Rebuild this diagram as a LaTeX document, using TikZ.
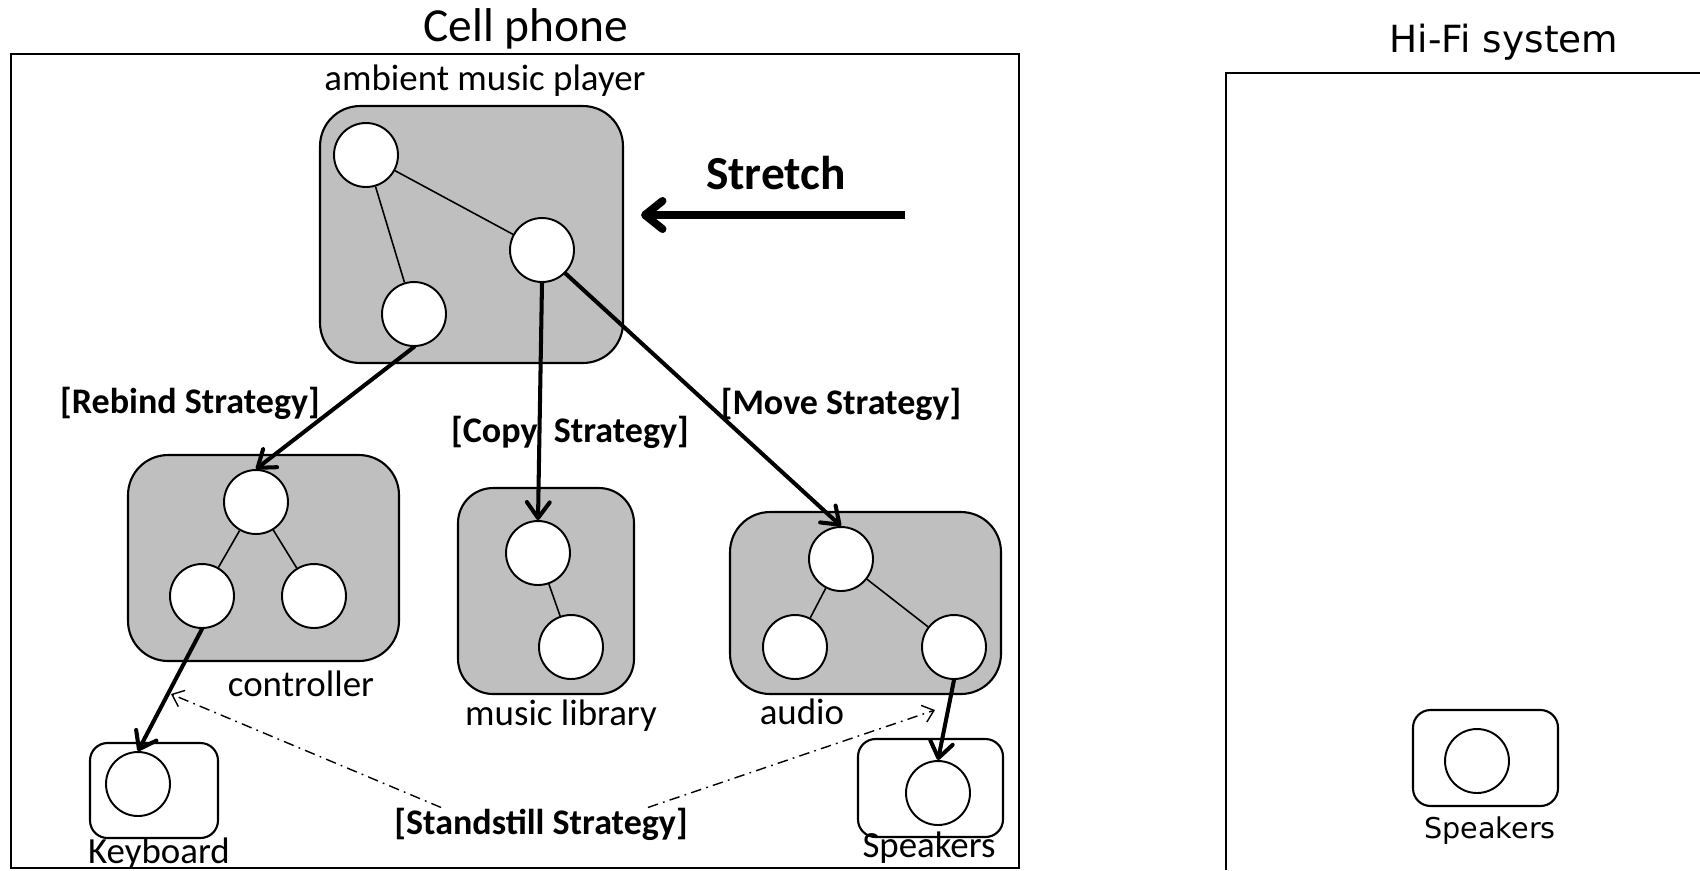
\documentclass[tikz,border=0pt]{standalone}
\usepackage{fontspec}
\setmainfont{Carlito}
\newfontfamily\hififont{DejaVu Sans}
\usetikzlibrary{arrows.meta,positioning,calc}

\tikzset{
  comp/.style={draw, rectangle, rounded corners=0.8cm, fill=black!25, line width=1.2pt},
  device/.style={draw, rectangle, rounded corners=0.35cm, fill=white, line width=1.2pt},
  part/.style={draw, circle, fill=white, line width=1.1pt, minimum size=1.28cm, inner sep=0pt},
  link/.style={line width=0.9pt},
  lbl/.style={font=\fontsize{21}{24}\selectfont, inner sep=0pt},
  strat/.style={font=\bfseries\fontsize{20.5}{24}\selectfont, inner sep=0pt},
  migrate/.style={line width=2.3pt, line cap=round,
    -{Straight Barb[length=9pt,width=13pt,line width=2.3pt,round]}},
  standstill/.style={line width=0.8pt, dash pattern=on 6pt off 3pt on 1pt off 3pt,
    -{Straight Barb[length=6pt,width=10pt,line width=0.8pt]}}
}

\begin{document}
\begin{tikzpicture}[x=0.02cm, y=-0.02cm]
  \useasboundingbox (0,0) rectangle (1700,870);
  \fill[white] (0,0) rectangle (1700,870);

  % cell phone frame
  \draw[line width=1.5pt] (11,54) rectangle (1019,868);
  \node[lbl, font=\fontsize{27}{30}\selectfont] (phone) at (526,29) {Cell phone};

  % components
  \node[comp, minimum width=6.06cm, minimum height=5.14cm] (amb) at (471.5,234.5) {};
  \node[comp, minimum width=5.42cm, minimum height=4.12cm] (ctrl) at (263.5,558) {};
  \node[comp, rounded corners=0.7cm, minimum width=3.52cm, minimum height=4.12cm] (lib) at (546,591) {};
  \node[comp, minimum width=5.42cm, minimum height=3.64cm] (aud) at (865.5,603) {};
  \node[device, minimum width=2.56cm, minimum height=1.9cm] (kbd) at (154,790.5) {};
  \node[device, minimum width=2.9cm, minimum height=1.96cm] (spk) at (930.5,788) {};

  \node[lbl] (ambl) at (485,81) {ambient music player};
  \node[lbl] (ctrll) at (301,684) {controller};
  \node[lbl] (libl) at (561,716) {music library};
  \node[lbl] (audl) at (802,712) {audio};
  \node[lbl] (kbdl) at (159,854) {Keyboard};
  \node[lbl] (spkl) at (929,848) {Speakers};

  % parts
  \node[part] (a1) at (366,155) {};
  \node[part] (a2) at (542,250) {};
  \node[part] (a3) at (414,314) {};
  \node[part] (c1) at (256,502) {};
  \node[part] (c2) at (202,596) {};
  \node[part] (c3) at (314,596) {};
  \node[part] (l1) at (538,553) {};
  \node[part] (l2) at (571,647) {};
  \node[part] (u1) at (841,559) {};
  \node[part] (u2) at (795,647) {};
  \node[part] (u3) at (954,647) {};
  \node[part] (k1) at (138,784) {};
  \node[part] (s1) at (938,793) {};

  \draw[link] (a1) -- (a2);
  \draw[link] (a1) -- (a3);
  \draw[link] (c1) -- (c2);
  \draw[link] (c1) -- (c3);
  \draw[link] (l1) -- (l2);
  \draw[link] (u1) -- (u2);
  \draw[link] (u1) -- (u3);

  % strategies
  \draw[migrate] (a3.south) -- (c1.north);
  \draw[migrate] (a2.south) -- (l1.north);
  \draw[migrate] (a2.south east) -- (u1.north);
  \draw[migrate] (c2.south) -- (k1.north);
  \draw[migrate] (u3.south) -- (s1.north);

  \node[strat] (reb) at (190,403) {[Rebind Strategy]};
  \node[strat] (cpy) at (570,432) {[Copy\ \ Strategy]};
  \node[strat] (mov) at (841,404) {[Move Strategy]};
  \node[strat] (std) at (541,824) {[Standstill Strategy]};

  \coordinate (kbdin) at (171,694);
  \coordinate (spkin) at (935,710);
  \draw[standstill] ([xshift=0.94cm]std.north west) -- (kbdin);
  \draw[standstill] ([xshift=-0.8cm]std.north east) -- (spkin);

  % stretch
  \node[font=\bfseries\fontsize{27}{30}\selectfont] (stretchl) at (776,173) {Stretch};
  \coordinate (stretch) at (905,215);
  \draw[line width=4.5pt, -{Straight Barb[length=10pt,width=16pt,line width=4.5pt,round]}]
    (stretch) -- ([xshift=0.34cm]stretch -| amb.east);

  % hi-fi system frame
  \draw[line width=1.5pt] (1700,73) -| (1226,870);
  \node[font=\hififont\fontsize{21.3}{25}\selectfont] (hifi) at (1504,42) {Hi-Fi system};
  \node[device, minimum width=2.9cm, minimum height=1.92cm] (hspk) at (1485.5,758) {};
  \node[part] (h1) at (1477,761) {};
  \node[font=\hififont\fontsize{16.3}{19}\selectfont] (hspkl) at (1490,831) {Speakers};
\end{tikzpicture}
\end{document}
